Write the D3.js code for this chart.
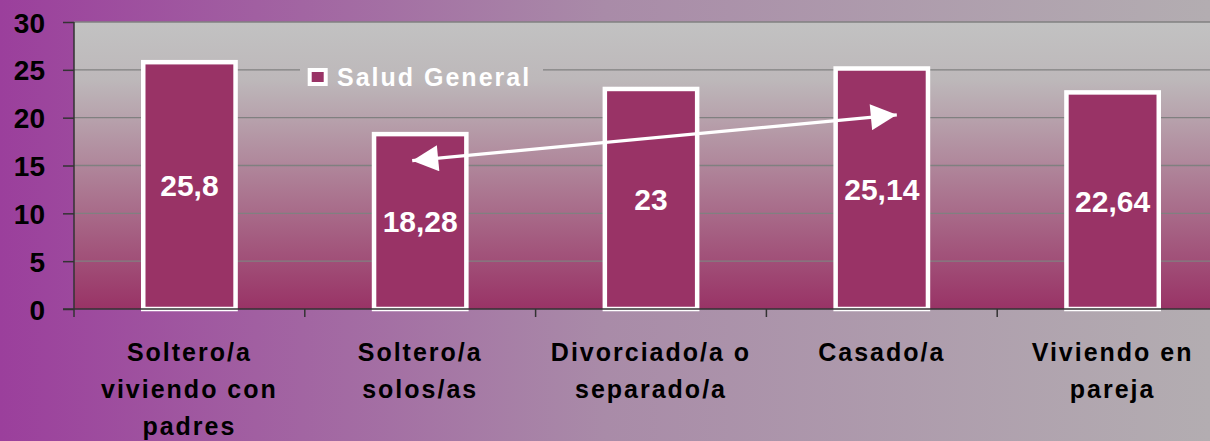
<!DOCTYPE html>
<html><head><meta charset="utf-8">
<script src="https://cdn.jsdelivr.net/npm/d3@7"></script>
<style>body{margin:0;overflow:hidden}svg{display:block}text{font-family:"Liberation Sans",Arial,sans-serif;font-weight:bold}</style>
</head><body>
<svg id="c" width="1210" height="441"></svg>
<script>
const categories = [["Soltero/a","viviendo con","padres"],["Soltero/a","solos/as"],["Divorciado/a o","separado/a"],["Casado/a"],["Viviendo en","pareja"]];
const values = [25.8, 18.28, 23, 25.14, 22.64];
const valueLabels = ["25,8","18,28","23","25,14","22,64"];
const yTicks = [0,5,10,15,20,25,30];
const seriesName = "Salud General";
// arrow annotation: [category index, value] endpoints
const arrowFrom = [3, 20.3];
const arrowTo = [1, 15.5];

const svg = d3.select("#c");
const W = 1210, H = 441;
const m = {left:74, top:22, bottom:309};
const plotRight = 1228;

const defs = svg.append("defs");
const bg = defs.append("linearGradient").attr("id","bg").attr("x1","0").attr("x2","1").attr("y1","0").attr("y2","0");
bg.append("stop").attr("offset","0").attr("stop-color","#9b3f9c");
bg.append("stop").attr("offset","0.5").attr("stop-color","#a98ba8");
bg.append("stop").attr("offset","1").attr("stop-color","#b3adb1");
const pg = defs.append("linearGradient").attr("id","pg").attr("gradientUnits","userSpaceOnUse")
  .attr("x1",0).attr("x2",0).attr("y1",m.top).attr("y2",m.bottom);
pg.append("stop").attr("offset","0").attr("stop-color","#c2c2c2");
pg.append("stop").attr("offset","0.2").attr("stop-color","#bdb8ba");
pg.append("stop").attr("offset","1").attr("stop-color","#993366");

svg.append("rect").attr("width",W).attr("height",H).attr("fill","url(#bg)");

const x = d3.scaleBand().domain(d3.range(values.length)).range([m.left, plotRight]).paddingInner(0).paddingOuter(0);
const y = d3.scaleLinear().domain([0,30]).range([m.bottom, m.top]);

svg.append("rect").attr("x",m.left).attr("y",m.top).attr("width",plotRight-m.left).attr("height",m.bottom-m.top).attr("fill","url(#pg)");

// gridlines
svg.append("g").selectAll("line").data(yTicks.filter(d=>d>0)).join("line")
  .attr("x1",m.left).attr("x2",plotRight).attr("y1",d=>y(d)).attr("y2",d=>y(d))
  .attr("stroke","#808080").attr("stroke-width",1.3);

// legend background (hides gridline)
const lg = svg.append("g");
lg.append("rect").attr("x",300).attr("y",58).attr("width",243).attr("height",38).attr("fill","url(#pg)");
lg.append("rect").attr("x",309.7).attr("y",70).attr("width",16).attr("height",14).attr("fill","#993366").attr("stroke","#fff").attr("stroke-width",4);
lg.append("text").attr("x",337).attr("y",86).attr("fill","#fff").attr("font-size",25).attr("letter-spacing",2).text(seriesName);

// bars
const bw = x.bandwidth()*0.4;
svg.append("g").selectAll("rect").data(values).join("rect")
  .attr("x",(d,i)=>x(i)+x.bandwidth()/2-bw/2).attr("width",bw)
  .attr("y",d=>y(d)).attr("height",d=>y(0)-y(d))
  .attr("fill","#993366").attr("stroke","#fff").attr("stroke-width",4.5);

// value labels
svg.append("g").selectAll("text").data(values).join("text")
  .attr("x",(d,i)=>x(i)+x.bandwidth()/2).attr("y",d=>(y(d)+y(0))/2)
  .attr("dy","0.36em").attr("text-anchor","middle").attr("fill","#fff").attr("font-size",30)
  .text((d,i)=>valueLabels[i]);

// y axis
const ya = svg.append("g").attr("transform",`translate(${m.left},0)`)
  .call(d3.axisLeft(y).tickValues(yTicks).tickSize(11).tickPadding(18).tickFormat(d3.format("d")));
ya.select(".domain").attr("stroke","#333").attr("stroke-width",1.5).attr("d",`M0,${m.top}V${m.bottom}`);
ya.selectAll(".tick line").attr("stroke","#333").attr("stroke-width",1.5);
ya.selectAll(".tick text").attr("fill","#000").attr("font-size",28).attr("font-family","Liberation Sans, Arial").attr("font-weight","bold").attr("dy","0.36em");

// x axis
const xa = svg.append("g");
xa.append("line").attr("x1",m.left-11).attr("x2",plotRight).attr("y1",m.bottom).attr("y2",m.bottom).attr("stroke","#333").attr("stroke-width",1.5);
xa.selectAll("line.t").data(d3.range(values.length+1)).join("line").attr("class","t")
  .attr("x1",i=>m.left+i*x.step()).attr("x2",i=>m.left+i*x.step()).attr("y1",m.bottom).attr("y2",m.bottom+8)
  .attr("stroke","#333").attr("stroke-width",1.5);
const cl = xa.selectAll("text.c").data(categories).join("text").attr("class","c")
  .attr("x",(d,i)=>x(i)+x.bandwidth()/2).attr("y",361)
  .attr("text-anchor","middle").attr("fill","#000").attr("font-size",25).attr("letter-spacing",2);
cl.each(function(d,i){
  const t = d3.select(this);
  d.forEach((line,k)=>t.append("tspan").attr("x",x(i)+x.bandwidth()/2).attr("dy",k===0?0:37).text(line));
});

// arrow
const mk = defs.append("marker").attr("id","ah").attr("viewBox","0 0 10 10").attr("refX",10).attr("refY",5)
  .attr("markerUnits","userSpaceOnUse").attr("markerWidth",28).attr("markerHeight",26).attr("orient","auto-start-reverse");
mk.append("path").attr("d","M0,0L10,5L0,10z").attr("fill","#fff");
const ax = i=>x(i)+x.bandwidth()/2;
svg.append("line")
  .attr("x1",ax(arrowTo[0])-8).attr("y1",y(arrowTo[1]))
  .attr("x2",ax(arrowFrom[0])+15).attr("y2",y(arrowFrom[1]))
  .attr("stroke","#fff").attr("stroke-width",3.2)
  .attr("marker-start","url(#ah)").attr("marker-end","url(#ah)");
</script>
</body></html>
